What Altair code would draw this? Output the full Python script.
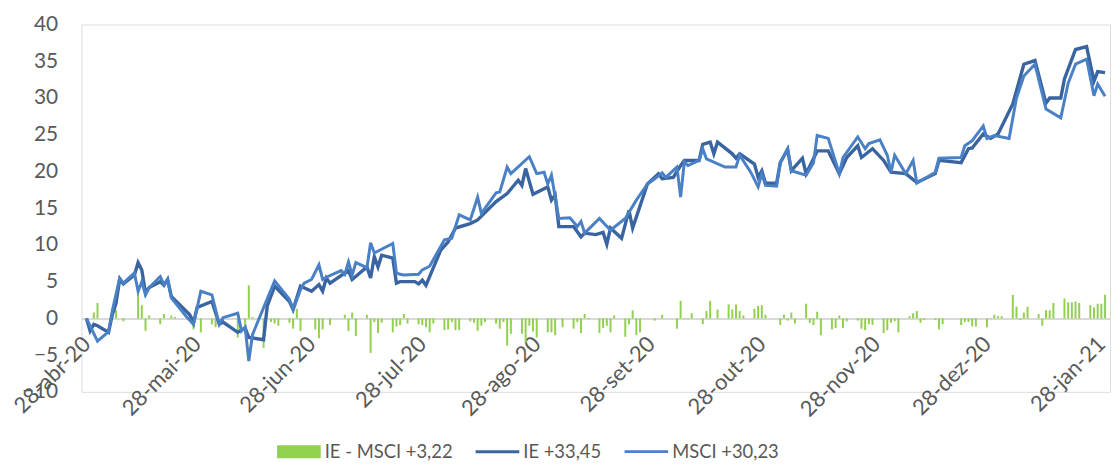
import altair as alt
import pandas as pd

# ---------------- data ----------------
ie_dates = ["2020-04-28","2020-04-29","2020-04-30","2020-05-01","2020-05-04","2020-05-05","2020-05-06","2020-05-07","2020-05-08",
"2020-05-11","2020-05-12","2020-05-13","2020-05-14","2020-05-15","2020-05-18","2020-05-19","2020-05-20","2020-05-21","2020-05-26",
"2020-05-27","2020-05-28","2020-06-01","2020-06-03","2020-06-04","2020-06-08","2020-06-10","2020-06-11","2020-06-15","2020-06-16",
"2020-06-18","2020-06-22","2020-06-23","2020-06-24","2020-06-25","2020-06-28","2020-06-30","2020-07-01","2020-07-02","2020-07-03",
"2020-07-08","2020-07-09","2020-07-13","2020-07-14","2020-07-15","2020-07-16","2020-07-17","2020-07-20","2020-07-21","2020-07-22",
"2020-07-26","2020-07-27","2020-07-28","2020-07-29","2020-08-02","2020-08-04","2020-08-06","2020-08-10","2020-08-12","2020-08-17",
"2020-08-20","2020-08-23","2020-08-24","2020-08-25","2020-08-27","2020-08-31","2020-09-01","2020-09-02","2020-09-03","2020-09-07",
"2020-09-09","2020-09-10","2020-09-13","2020-09-15","2020-09-16","2020-09-17","2020-09-20","2020-09-22","2020-09-23","2020-09-27",
"2020-09-30","2020-10-01","2020-10-04","2020-10-06","2020-10-07","2020-10-11","2020-10-12","2020-10-14","2020-10-15","2020-10-16",
"2020-10-20","2020-10-21","2020-10-22","2020-10-26","2020-10-27","2020-10-28","2020-10-29","2020-11-01","2020-11-02","2020-11-04",
"2020-11-05","2020-11-08","2020-11-09","2020-11-12","2020-11-15","2020-11-18","2020-11-20","2020-11-23","2020-11-24","2020-11-27",
"2020-11-30","2020-12-02","2020-12-06","2020-12-09","2020-12-14","2020-12-15","2020-12-21","2020-12-23","2020-12-24","2020-12-27",
"2020-12-29","2020-12-31","2021-01-04","2021-01-07","2021-01-10","2021-01-13","2021-01-14","2021-01-17","2021-01-18","2021-01-21",
"2021-01-24","2021-01-26","2021-01-27","2021-01-29"]
ie_values = [0,-1.7,-0.8,-1.0,-1.9,0.5,2.0,5.3,4.7,
5.9,7.6,6.6,3.5,4.2,5.0,4.5,5.3,3.0,0.5,
-0.6,1.5,2.3,-0.8,-0.5,-1.9,-1.3,-2.6,-2.9,1.7,
4.4,2.3,1.2,2.8,4.4,3.7,4.6,3.7,5.5,4.8,
6.5,5.3,7.0,5.5,8.4,7.0,8.6,8.2,4.8,5.0,
5.0,4.7,5.2,4.5,9.3,10.4,12.3,12.9,13.4,15.9,
17.0,18.8,18.1,20.4,16.9,17.9,16.1,16.8,12.5,12.5,
11.1,11.6,11.4,11.7,10.1,12.3,10.9,14.7,12.3,18.3,
19.7,19.0,19.2,20.8,21.5,21.5,23.7,24.0,22.4,24.0,
22.4,21.8,22.4,21.0,19.2,20.1,18.4,18.4,21.2,23.0,
20.1,21.8,19.7,22.8,22.8,19.7,21.9,23.5,21.9,23.1,
21.5,19.9,19.7,18.5,19.7,21.5,21.2,23.1,23.2,25.1,
24.5,25.1,29.2,34.6,35.1,29.3,30.0,30.0,32.6,36.6,
37.0,32.3,33.6,33.45]

msci_dates = ["2020-04-28","2020-05-01","2020-05-04","2020-05-05","2020-05-07","2020-05-08","2020-05-11","2020-05-12","2020-05-13",
"2020-05-14","2020-05-15","2020-05-18","2020-05-19","2020-05-20","2020-05-21","2020-05-25","2020-05-27","2020-05-29","2020-06-01",
"2020-06-03","2020-06-04","2020-06-08","2020-06-09","2020-06-10","2020-06-11","2020-06-12","2020-06-18","2020-06-22","2020-06-23",
"2020-06-25","2020-06-26","2020-06-28","2020-06-30","2020-07-01","2020-07-02","2020-07-06","2020-07-07","2020-07-08","2020-07-09",
"2020-07-10","2020-07-13","2020-07-14","2020-07-15","2020-07-20","2020-07-21","2020-07-22","2020-07-23","2020-07-27","2020-07-28",
"2020-07-30","2020-08-03","2020-08-05","2020-08-07","2020-08-10","2020-08-12","2020-08-13","2020-08-17","2020-08-18","2020-08-20",
"2020-08-21","2020-08-26","2020-08-28","2020-08-30","2020-08-31","2020-09-01","2020-09-03","2020-09-06","2020-09-08","2020-09-09",
"2020-09-10","2020-09-14","2020-09-17","2020-09-21","2020-09-24","2020-09-27","2020-09-29","2020-10-01","2020-10-02","2020-10-05",
"2020-10-06","2020-10-07","2020-10-08","2020-10-11","2020-10-12","2020-10-13","2020-10-18","2020-10-21","2020-10-22","2020-10-25",
"2020-10-27","2020-10-28","2020-10-29","2020-11-01","2020-11-02","2020-11-04","2020-11-05","2020-11-09","2020-11-11","2020-11-12",
"2020-11-15","2020-11-18","2020-11-19","2020-11-23","2020-11-25","2020-11-26","2020-11-29","2020-12-01","2020-12-02","2020-12-03",
"2020-12-06","2020-12-08","2020-12-09","2020-12-14","2020-12-15","2020-12-21","2020-12-22","2020-12-24","2020-12-27","2020-12-28",
"2020-12-30","2021-01-03","2021-01-05","2021-01-07","2021-01-10","2021-01-13","2021-01-17","2021-01-19","2021-01-21","2021-01-24",
"2021-01-26","2021-01-27","2021-01-29"]
msci_values = [0,-3.1,-1.8,1.0,5.5,4.8,6.2,3.7,5.0,
3.2,4.2,5.7,4.6,5.3,2.8,0.3,-0.8,3.7,3.2,
-0.8,0.1,0.7,-1.7,-1.2,-5.8,-2.2,5.1,2.6,1.2,
3.9,4.8,5.3,7.3,5.3,5.6,6.5,6.0,7.7,5.9,
7.6,6.9,10.3,8.9,10.2,6.2,6.0,5.9,6.0,6.6,
7.1,10.7,10.9,14.1,13.4,16.5,14.3,17.1,17.2,20.6,
19.7,22.0,19.7,19.9,18.3,19.5,13.6,13.7,12.5,13.2,
11.6,13.6,12.0,13.6,16.1,18.3,19.0,19.8,19.2,20.6,
16.5,21.3,20.8,21.5,23.1,21.7,20.6,20.6,22.2,19.9,
17.9,19.7,18.1,18.0,21.2,23.1,20.1,19.5,21.2,24.9,
24.5,19.7,21.9,24.7,23.1,23.8,24.3,22.2,19.9,22.2,
19.7,21.5,18.4,19.9,21.8,21.9,23.5,24.2,26.2,24.5,
24.9,24.5,30.0,33.0,34.6,28.5,27.3,32.0,34.6,35.3,
30.3,31.9,30.23]

diff_dates = ["2020-04-30","2020-05-01","2020-05-05","2020-05-06","2020-05-08","2020-05-12","2020-05-13","2020-05-14","2020-05-15",
"2020-05-18","2020-05-19","2020-05-21","2020-05-22","2020-05-27","2020-05-29","2020-06-01","2020-06-02","2020-06-04","2020-06-08",
"2020-06-10","2020-06-11","2020-06-12","2020-06-15","2020-06-17","2020-06-18","2020-06-19","2020-06-22","2020-06-23","2020-06-24",
"2020-06-25","2020-06-29","2020-06-30","2020-07-01","2020-07-03","2020-07-07","2020-07-08","2020-07-09","2020-07-10","2020-07-13",
"2020-07-14","2020-07-15","2020-07-16","2020-07-17","2020-07-20","2020-07-21","2020-07-22","2020-07-23","2020-07-24","2020-07-27",
"2020-07-28","2020-07-29","2020-07-30","2020-07-31","2020-08-03","2020-08-04","2020-08-05","2020-08-06","2020-08-07","2020-08-10",
"2020-08-11","2020-08-12","2020-08-13","2020-08-14","2020-08-17","2020-08-18","2020-08-19","2020-08-20","2020-08-21","2020-08-24",
"2020-08-25","2020-08-26","2020-08-27","2020-08-28","2020-08-31","2020-09-01","2020-09-02","2020-09-04","2020-09-07","2020-09-08",
"2020-09-09","2020-09-10","2020-09-11","2020-09-14","2020-09-15","2020-09-16","2020-09-17","2020-09-18","2020-09-21","2020-09-22",
"2020-09-23","2020-09-24","2020-09-25","2020-09-29","2020-10-01","2020-10-05","2020-10-06","2020-10-07","2020-10-08","2020-10-09",
"2020-10-12","2020-10-13","2020-10-14","2020-10-16","2020-10-19","2020-10-20","2020-10-21","2020-10-22","2020-10-23","2020-10-26",
"2020-10-27","2020-10-28","2020-10-29","2020-11-02","2020-11-03","2020-11-04","2020-11-05","2020-11-06","2020-11-09","2020-11-10",
"2020-11-11","2020-11-12","2020-11-13","2020-11-16","2020-11-17","2020-11-18","2020-11-19","2020-11-20","2020-11-23","2020-11-24",
"2020-11-25","2020-11-26","2020-11-27","2020-11-30","2020-12-01","2020-12-02","2020-12-03","2020-12-04","2020-12-07","2020-12-08",
"2020-12-09","2020-12-10","2020-12-11","2020-12-14","2020-12-15","2020-12-16","2020-12-21","2020-12-22","2020-12-23","2020-12-24",
"2020-12-25","2020-12-28","2020-12-29","2020-12-30","2020-12-31","2021-01-01","2021-01-04","2021-01-05","2021-01-06","2021-01-07",
"2021-01-08","2021-01-11","2021-01-12","2021-01-13","2021-01-14","2021-01-15","2021-01-18","2021-01-19","2021-01-20","2021-01-21",
"2021-01-22","2021-01-25","2021-01-26","2021-01-27","2021-01-28","2021-01-29"]
diff_values = [0.8,2.1,1.0,1.2,-0.4,3.5,1.8,-1.7,0.4,
-0.8,0.6,0.4,0.2,-1.5,-1.9,-0.8,-1.2,-0.4,-2.6,
-1.3,4.5,0.2,-4.0,-0.5,-0.7,-1.0,-0.6,-1.4,1.3,
-1.7,-1.5,-2.7,-1.5,-0.9,0.5,-1.7,0.8,-2.4,0.5,
-4.7,-0.5,-2.0,-0.6,-1.9,-1.1,-0.9,0.6,-0.7,-0.8,
-0.9,-1.2,-1.9,-0.7,-1.6,-1.5,-0.5,-1.6,-1.6,-0.4,
-0.6,-1.7,-1.0,-0.5,-0.7,-1.4,-0.5,-3.7,-2.1,-2.1,
-3.3,-1.0,-1.8,-2.6,-1.9,-1.9,-2.3,-1.2,-1.4,-0.5,
-2.0,0.6,-0.1,-2.0,-1.3,-1.0,-1.9,0.4,-2.5,-0.8,
1.1,-2.3,-1.9,-0.3,0.5,-1.4,2.4,-0.1,-0.1,0.7,
-0.8,1.0,2.4,1.2,1.9,1.2,1.9,1.0,0.4,1.3,
1.7,1.8,0.5,-0.9,0.5,-0.3,0.8,-0.7,2.0,-0.6,
-0.9,0.9,-2.3,-1.5,-1.3,0.4,-1.3,-0.4,-0.3,-1.4,
-1.6,-0.8,-0.9,-2.0,-1.6,-0.6,-0.4,-1.9,0.3,0.7,
1.0,-0.6,-0.2,-0.2,-1.5,-0.8,-0.9,-0.5,-0.5,-1.1,
-1.1,-1.2,-0.1,0.5,0.3,0.3,3.2,1.6,-0.2,0.8,
1.6,0.6,-1.0,1.1,1.1,2.1,2.7,2.2,2.2,2.3,
2.1,1.8,1.5,2.0,2.0,3.22]

series_names = ["IE - MSCI +3,22", "IE +33,45", "MSCI +30,23"]
series_colors = ["#92D050", "#3A64A0", "#4A80C6"]
month_names = ["jan","fev","mar","abr","mai","jun","jul","ago","set","out","nov","dez"]
tick_months = [(2020, 4), (2020, 5), (2020, 6), (2020, 7), (2020, 8), (2020, 9),
               (2020, 10), (2020, 11), (2020, 12), (2021, 1)]
y_ticks = [-10, -5, 0, 5, 10, 15, 20, 25, 30, 35, 40]

# ---------------- frames ----------------
ie_df = pd.DataFrame({"date": [d + "T00:00:00" for d in ie_dates], "value": ie_values})
msci_df = pd.DataFrame({"date": [d + "T00:00:00" for d in msci_dates], "value": msci_values})
diff_df = pd.DataFrame({"date": [d + "T00:00:00" for d in diff_dates], "value": diff_values})
legend_df = pd.DataFrame({"serie": series_names})

FONT = "Lato"
GREY = "#595959"

month_arr = "[" + ",".join("'" + m + "'" for m in month_names) + "]"
label_expr = ("date(datum.value) + '-' + " + month_arr +
              "[month(datum.value)] + '-' + timeFormat(datum.value, '%y')")

x_scale = alt.Scale(domain=[alt.DateTime(year=2020, month=4, date=28),
                            alt.DateTime(year=2021, month=1, date=29)])
y_scale = alt.Scale(domain=[-10, 40], nice=False, zero=False)

x_axis = alt.Axis(
    values=[alt.DateTime(year=y, month=m, date=28) for y, m in tick_months],
    labelExpr=label_expr, labelAngle=315, labelAlign="right", labelBaseline="middle",
    labelFontSize=22, labelColor=GREY, labelFont=FONT, labelPadding=22,
    ticks=False, grid=False, domain=True, domainColor="#D9D9D9", domainWidth=2,
    offset=-74, title=None, labelOverlap=False, labelFlush=False,
)
y_axis = alt.Axis(
    values=y_ticks, labelFontSize=21, labelColor=GREY, labelFont=FONT,
    labelPadding=24, ticks=False, grid=False, domain=False, title=None,
)

x_enc = alt.X("date:T", scale=x_scale, axis=x_axis)
y_enc = alt.Y("value:Q", scale=y_scale, axis=y_axis)

bars = alt.Chart(diff_df).mark_bar(size=2, color=series_colors[0]).encode(x=x_enc, y=y_enc)
ie_line = alt.Chart(ie_df).mark_line(color=series_colors[1], strokeWidth=3.4).encode(x=x_enc, y=y_enc)
msci_line = alt.Chart(msci_df).mark_line(color=series_colors[2], strokeWidth=3.0).encode(x=x_enc, y=y_enc)

legend_opts = dict(orient="none", legendX=197, legendY=408, direction="horizontal",
                   title=None, labelFontSize=18.5, labelColor=GREY, labelFont=FONT,
                   symbolSize=1936, symbolStrokeWidth=0, labelOffset=4,
                   columnPadding=23, symbolOpacity=1)

legend_layer = alt.Chart(legend_df).mark_point(filled=True, opacity=1).encode(
    color=alt.Color("serie:N", scale=alt.Scale(domain=series_names, range=series_colors),
                    legend=alt.Legend(**legend_opts)),
    shape=alt.Shape("serie:N", scale=alt.Scale(domain=series_names,
                    range=["M-1,-0.3H1V0.3H-1Z", "M-1,-0.07H1V0.07H-1Z", "M-1,-0.06H1V0.06H-1Z"]),
                    legend=alt.Legend(**legend_opts)),
).transform_filter("false")

chart = alt.layer(bars, ie_line, msci_line, legend_layer).properties(
    width=1036, height=370,
    autosize=alt.AutoSizeParams(type="none"),
    padding={"left": 74, "top": 15, "right": 2, "bottom": 70},
).configure_view(stroke=None).configure(font=FONT)

chart.save("out.html", embed_options={"renderer": "svg", "actions": False})
